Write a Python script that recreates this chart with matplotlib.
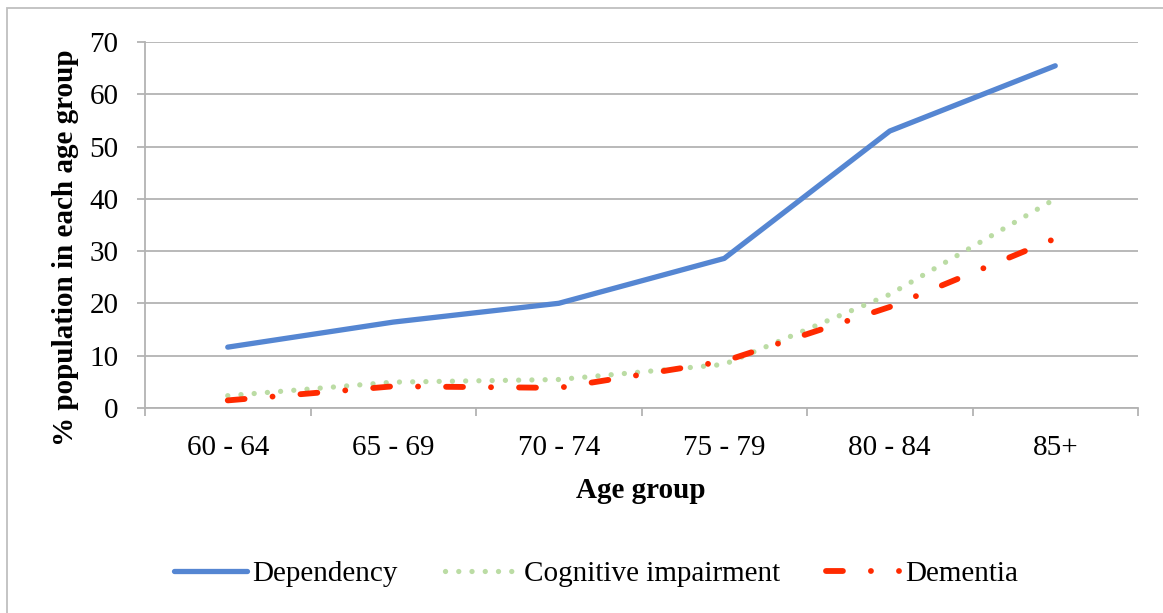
"""
Dependency / cognitive impairment / dementia by age group - line chart
"""
import numpy as np
import matplotlib
matplotlib.use('Agg')
import matplotlib.pyplot as plt
from matplotlib.patches import Rectangle

plt.rcParams['font.family'] = ['Liberation Serif', 'DejaVu Serif']

# data
age_groups = ['60 - 64', '65 - 69', '70 - 74', '75 - 79', '80 - 84', '85+']
dependency = [11.6, 16.4, 20.0, 28.6, 53.0, 65.5]
cognitive = [2.3, 4.9, 5.4, 8.3, 21.7, 40.0]
dementia = [1.4, 4.1, 3.8, 8.9, 19.3, 32.4]
y_ticks = [0, 10, 20, 30, 40, 50, 60, 70]

W, H = 1163, 613
FS = 21
fig = plt.figure(figsize=(W / 100, H / 100), dpi=100)
ax = fig.add_axes([145 / W, 1 - 407.7 / H, (1138 - 145) / W, (407.7 - 42.3) / H])

GRID = '#B3B3B3'
x = np.arange(len(age_groups))

ax.plot(x, dependency, color='#5586D2', lw=3.8, solid_capstyle='round',
        solid_joinstyle='round', label='Dependency')
ax.plot(x, cognitive, color='#BBDCA4', lw=3.8, linestyle=(0, (0.01, 2.5)),
        dash_capstyle='round', label='Cognitive impairment')
ax.plot(x, dementia, color='#FF2A00', lw=4.2, linestyle=(0, (2.9, 4.8, 0.01, 4.8)),
        dash_capstyle='round', label='Dementia')

ax.set_xlim(-0.5, len(age_groups) - 0.5)
ax.set_ylim(0, 70)
ax.set_yticks(y_ticks)
ax.set_yticklabels([str(v) for v in y_ticks], fontsize=FS)
ax.yaxis.grid(True, color=GRID, lw=1.3)
ax.set_axisbelow(True)

# category boundaries get the tick marks, labels sit in the middle
ax.set_xticks(np.arange(-0.5, len(age_groups)), minor=False)
ax.set_xticklabels([])
ax.set_xticks(x, minor=True)
ax.set_xticklabels(age_groups, minor=True, fontsize=FS)
ax.tick_params(axis='x', which='major', length=6, width=1.3, color=GRID, direction='out')
ax.tick_params(axis='x', which='minor', length=0, pad=20)
ax.tick_params(axis='y', length=6, width=1.3, color=GRID, direction='out', pad=13)

for s in ['top', 'right']:
    ax.spines[s].set_visible(False)
for s in ['left', 'bottom']:
    ax.spines[s].set_color(GRID)
    ax.spines[s].set_linewidth(1.3)

fig.text(641 / W, 1 - 491 / H, 'Age group', ha='center', va='center',
         fontsize=FS, fontweight='bold')
fig.text(66 / W, 1 - 248 / H, '% population in each age group', ha='center',
         va='center', rotation=90, fontsize=FS, fontweight='bold')

fig.legend(loc='center', bbox_to_anchor=(596 / W, 1 - 574 / H), ncol=3,
           frameon=False, fontsize=FS, handlelength=2.5, handletextpad=0.2,
           columnspacing=1.6)

# chart area border
fig.patches.append(Rectangle((7 / W, -0.1), 1.2, 1.1 - 8 / H, transform=fig.transFigure,
                             fill=False, edgecolor='#BFBFBF', lw=1.3))

fig.savefig('out.png', dpi=100)
plt.close(fig)
